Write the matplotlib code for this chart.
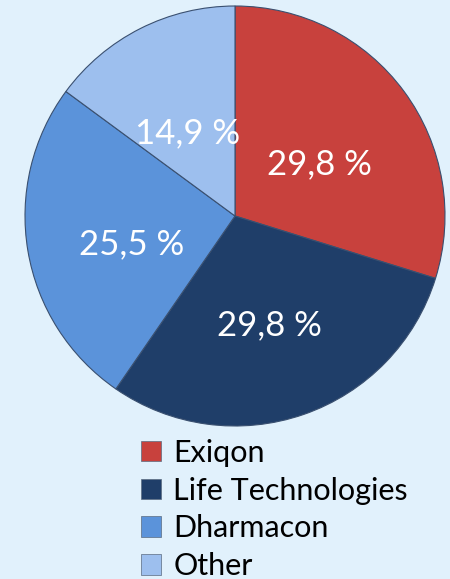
import matplotlib.pyplot as plt
from matplotlib.patches import Patch

# Vendor share data
vendors = ['Exiqon', 'Life Technologies', 'Dharmacon', 'Other']
shares = [29.8, 29.8, 25.5, 14.9]
colors = ['#c8413d', '#1f3e69', '#5b93da', '#9dbfee']
bg = '#e1f1fc'

plt.rcParams['font.family'] = ['Lato', 'DejaVu Sans']

fig = plt.figure(figsize=(4.5, 5.79), dpi=100, facecolor=bg)
ax = fig.add_axes([25 / 450, 1 - 426 / 579, 420 / 450, 420 / 579])
ax.set_facecolor(bg)

wedges, texts, autotexts = ax.pie(
    shares, colors=colors, startangle=90, counterclock=False,
    autopct=lambda p: f'{p:.1f} %'.replace('.', ','),
    pctdistance=0.5,
    wedgeprops=dict(edgecolor='#3a5070', linewidth=0.8),
    textprops=dict(color='white', fontsize=25))
for t in autotexts:
    x, y = t.get_position()
    t.set_position((x, y - 0.05))
ax.set_xlim(-1.0, 1.0)
ax.set_ylim(-1.0, 1.0)
ax.set_aspect('equal')

handles = [Patch(facecolor=c, edgecolor='#5a6b80', linewidth=0.5) for c in colors]
fig.legend(handles, vendors, loc='lower left', bbox_to_anchor=(120 / 450, -0.039),
           frameon=False, fontsize=22, handlelength=0.65, handleheight=0.65,
           handletextpad=0.4, labelspacing=0.32, borderpad=0.2)

plt.savefig('out.png', dpi=100, facecolor=bg)
